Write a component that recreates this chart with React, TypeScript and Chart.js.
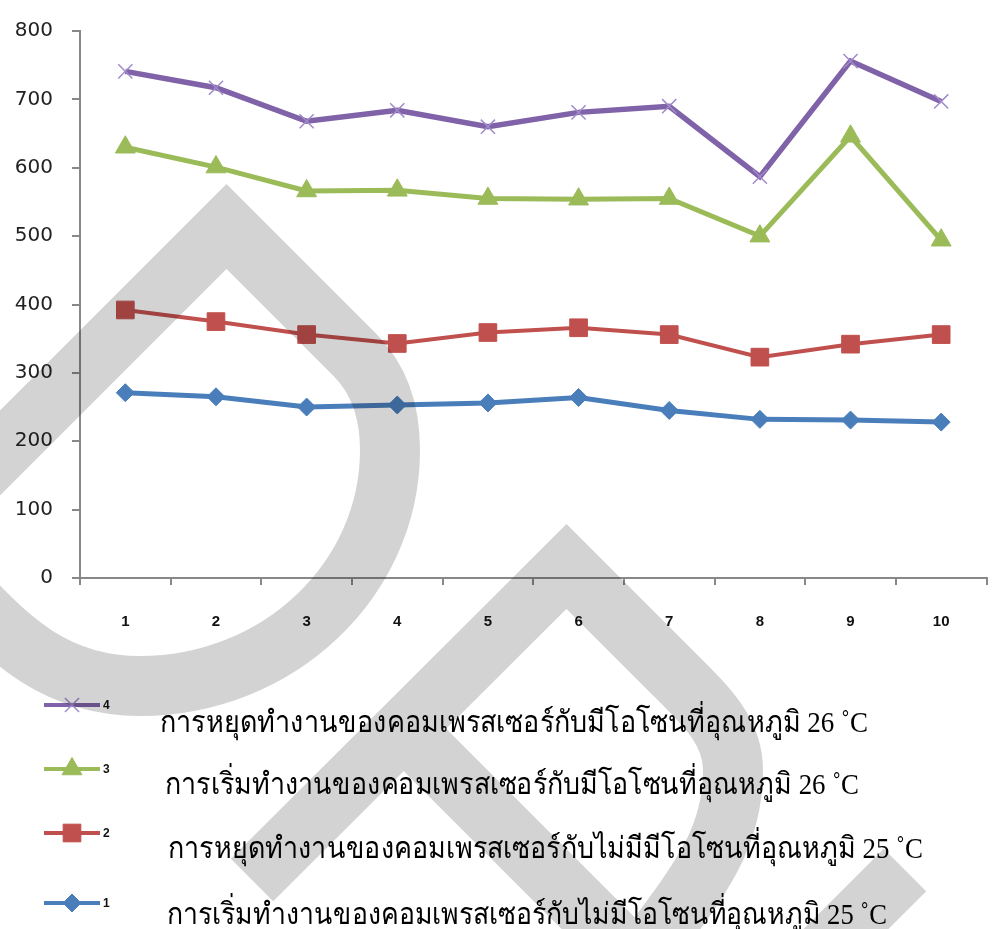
import React, { useEffect, useLayoutEffect, useRef } from 'react';
import { Chart, registerables } from 'chart.js';
import { drawPoint } from 'chart.js/helpers';

Chart.register(...registerables);

// Test runs on the x axis
const runs = ['1', '2', '3', '4', '5', '6', '7', '8', '9', '10'];

// Series 1: compressor start, no ozone, 25 °C
const startNoOzone25 = [271, 265, 250, 253, 256, 264, 245, 232, 231, 228];
// Series 2: compressor stop, no ozone, 25 °C
const stopNoOzone25 = [392, 375, 356, 343, 359, 366, 356, 323, 342, 356];
// Series 3: compressor start, with ozone, 26 °C
const startOzone26 = [630, 601, 566, 567, 555, 554, 555, 500, 646, 494];
// Series 4: compressor stop, with ozone, 26 °C
const stopOzone26 = [741, 717, 668, 684, 660, 681, 690, 587, 756, 697];

const seriesNames = ['1', '2', '3', '4'];

// Legend descriptions, listed top to bottom (series 4, 3, 2, 1)
const descriptions = [
  'การหยุดทำงานของคอมเพรสเซอร์กับมีโอโซนที่อุณหภูมิ 26 ˚C',
  'การเริ่มทำงานของคอมเพรสเซอร์กับมีโอโซนที่อุณหภูมิ 26 ˚C',
  'การหยุดทำงานของคอมเพรสเซอร์กับไม่มีมีโอโซนที่อุณหภูมิ 25 ˚C',
  'การเริ่มทำงานของคอมเพรสเซอร์กับไม่มีโอโซนที่อุณหภูมิ 25 ˚C',
];

const Y_MIN = 0;
const Y_MAX = 800;
const Y_STEP = 100;

const BLUE = '#4a7ebb';
const RED = '#c0504d';
const GREEN = '#9bbb59';
const PURPLE = '#7f62a8';
const PURPLE_LIGHT = '#a18bcb';
const AXIS = '#888888';

// legend layout: symbol rows and description rows
const LEGEND_ROW_Y = [705, 769, 833, 903];
const TEXT_ROWS = [
  { left: 160, right: 868, center: 721 },
  { left: 165, right: 859, center: 783 },
  { left: 168, right: 923, center: 847 },
  { left: 167, right: 887, center: 913 },
];
const TEXT_SIZE = 30;

const legendSymbols = {
  id: 'legendSymbols',
  afterDraw(chart: any) {
    const ctx = chart.ctx;
    const order = [3, 2, 1, 0];
    order.forEach((di, row) => {
      const ds = chart.data.datasets[di];
      const y = LEGEND_ROW_Y[row];
      ctx.save();
      ctx.strokeStyle = ds.borderColor;
      ctx.lineWidth = 4;
      ctx.beginPath();
      ctx.moveTo(44, y);
      ctx.lineTo(100, y);
      ctx.stroke();
      ctx.fillStyle = ds.pointBackgroundColor;
      ctx.strokeStyle = ds.pointBorderColor;
      ctx.lineWidth = ds.pointBorderWidth;
      drawPoint(
        ctx,
        { pointStyle: ds.pointStyle, radius: ds.pointRadius, borderWidth: ds.pointBorderWidth, rotation: 0 } as any,
        72,
        y
      );
      ctx.fillStyle = '#111';
      ctx.font = 'bold 12px "Liberation Sans", Arial, sans-serif';
      ctx.textBaseline = 'middle';
      ctx.textAlign = 'left';
      ctx.fillText(ds.label, 103, y + 1);
      ctx.restore();
    });
  },
};

function drawWatermark(canvas: HTMLCanvasElement) {
  const ctx = canvas.getContext('2d');
  if (!ctx) return;
  ctx.clearRect(0, 0, canvas.width, canvas.height);
  ctx.strokeStyle = '#d3d3d3';
  ctx.lineWidth = 60;
  ctx.lineJoin = 'miter';
  ctx.miterLimit = 10;
  ctx.lineCap = 'butt';

  // upper-left drop outline
  ctx.beginPath();
  ctx.moveTo(-60, 513);
  ctx.lineTo(226.5, 226.5);
  ctx.lineTo(355, 355);
  ctx.bezierCurveTo(375, 375, 390, 405, 390, 450);
  ctx.bezierCurveTo(390, 580, 278, 686, 140, 686);
  ctx.bezierCurveTo(60, 686, 10, 645, -50, 575);
  ctx.stroke();

  // lower drop outline with its tail strokes
  ctx.beginPath();
  ctx.moveTo(252, 880);
  ctx.lineTo(566.5, 566.5);
  ctx.lineTo(670, 670);
  ctx.bezierCurveTo(705, 705, 733, 730, 733, 770);
  ctx.bezierCurveTo(733, 840, 700, 880, 640, 960);
  ctx.moveTo(404, 729);
  ctx.lineTo(660, 985);
  ctx.moveTo(905, 870);
  ctx.lineTo(780, 995);
  ctx.stroke();
}

export default function App() {
  const chartRef = useRef<HTMLCanvasElement>(null);
  const markRef = useRef<HTMLCanvasElement>(null);
  const rowRefs = useRef<(HTMLSpanElement | null)[]>([]);

  useEffect(() => {
    if (!chartRef.current) return;
    const chart = new Chart(chartRef.current, {
      type: 'line',
      data: {
        labels: runs,
        datasets: [
          {
            label: seriesNames[0],
            data: startNoOzone25,
            borderColor: BLUE,
            backgroundColor: BLUE,
            borderWidth: 5,
            pointStyle: 'rectRot',
            pointRadius: 9,
            pointBorderWidth: 1,
            pointBackgroundColor: BLUE,
            pointBorderColor: BLUE,
          },
          {
            label: seriesNames[1],
            data: stopNoOzone25,
            borderColor: RED,
            backgroundColor: RED,
            borderWidth: 4,
            pointStyle: 'rect',
            pointRadius: 12.5,
            pointBorderWidth: 1,
            pointBackgroundColor: RED,
            pointBorderColor: RED,
          },
          {
            label: seriesNames[2],
            data: startOzone26,
            borderColor: GREEN,
            backgroundColor: GREEN,
            borderWidth: 5,
            pointStyle: 'triangle',
            pointRadius: 11.5,
            pointBorderWidth: 1,
            pointBackgroundColor: GREEN,
            pointBorderColor: GREEN,
          },
          {
            label: seriesNames[3],
            data: stopOzone26,
            borderColor: PURPLE,
            backgroundColor: PURPLE,
            borderWidth: 5.5,
            pointStyle: 'crossRot',
            pointRadius: 10,
            pointBorderWidth: 1.5,
            pointBackgroundColor: PURPLE_LIGHT,
            pointBorderColor: PURPLE_LIGHT,
          },
        ],
      },
      options: {
        responsive: false,
        animation: false,
        events: [],
        layout: { padding: { top: 26, right: 0, bottom: 301, left: 0 } },
        elements: { line: { tension: 0 } },
        plugins: {
          legend: { display: false },
          tooltip: { enabled: false },
        },
        scales: {
          x: {
            type: 'category',
            offset: true,
            grid: {
              display: true,
              drawOnChartArea: false,
              offset: true,
              tickLength: 7,
              color: AXIS,
              lineWidth: 2,
            },
            border: { display: true, color: AXIS, width: 2 },
            ticks: {
              color: '#111',
              font: { family: '"Liberation Sans", Arial, sans-serif', size: 15, weight: 'bold' },
              padding: 28,
              maxRotation: 0,
              autoSkip: false,
            },
            afterFit: (scale: any) => {
              scale.height = 50;
            },
          },
          y: {
            min: Y_MIN,
            max: Y_MAX,
            ticks: {
              stepSize: Y_STEP,
              padding: 19,
              color: '#222',
              font: { family: '"DejaVu Sans", Verdana, sans-serif', size: 20 },
            },
            grid: {
              display: true,
              drawOnChartArea: false,
              tickLength: 8,
              color: AXIS,
              lineWidth: 2,
            },
            border: { display: true, color: AXIS, width: 2 },
            afterFit: (scale: any) => {
              scale.width = 80;
            },
          },
        },
      },
      plugins: [legendSymbols],
    });
    return () => chart.destroy();
  }, []);

  useEffect(() => {
    if (markRef.current) drawWatermark(markRef.current);
  }, []);

  useLayoutEffect(() => {
    rowRefs.current.forEach((el, i) => {
      if (!el) return;
      const row = TEXT_ROWS[i];
      const w = el.offsetWidth;
      if (w > 0) el.style.transform = `scaleX(${(row.right - row.left) / w})`;
    });
  }, []);

  return (
    <div
      style={{
        position: 'absolute',
        left: 0,
        top: 0,
        width: 993,
        height: 929,
        overflow: 'hidden',
        background: '#ffffff',
        isolation: 'isolate',
      }}
    >
      <canvas
        ref={chartRef}
        width={1000}
        height={929}
        style={{ position: 'absolute', left: 0, top: 0, width: 1000, height: 929 }}
      />
      {descriptions.map((text, i) => (
        <span
          key={i}
          ref={(el) => {
            rowRefs.current[i] = el;
          }}
          style={{
            position: 'absolute',
            left: TEXT_ROWS[i].left,
            top: TEXT_ROWS[i].center - TEXT_SIZE * 0.75,
            fontFamily: '"Liberation Serif", "DejaVu Serif", serif',
            fontSize: TEXT_SIZE,
            lineHeight: `${TEXT_SIZE * 1.5}px`,
            color: '#000',
            whiteSpace: 'nowrap',
            transformOrigin: '0 50%',
          }}
        >
          {text}
        </span>
      ))}
      <canvas
        ref={markRef}
        width={993}
        height={929}
        style={{
          position: 'absolute',
          left: 0,
          top: 0,
          width: 993,
          height: 929,
          mixBlendMode: 'multiply',
          pointerEvents: 'none',
        }}
      />
    </div>
  );
}
